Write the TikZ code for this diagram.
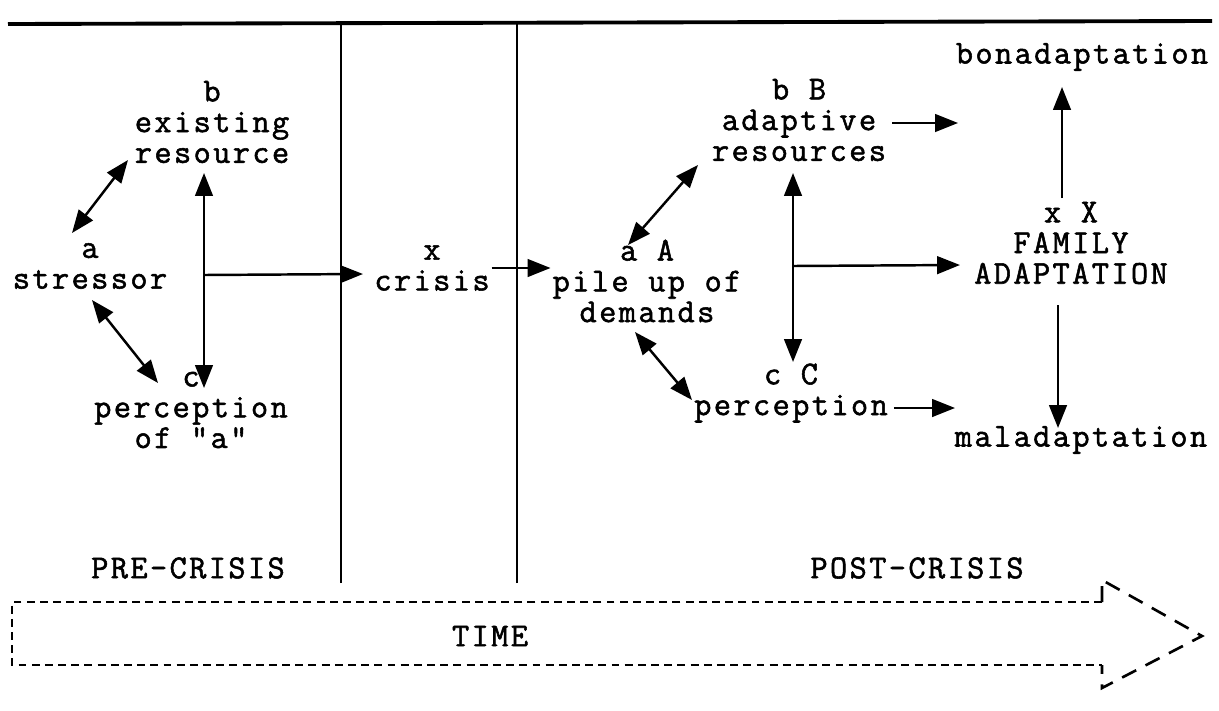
\documentclass[tikz,border=0pt]{standalone}
\usepackage{fontspec}
\newfontfamily\typefont[FakeBold=1.6,LetterSpace=7.2]{Latin Modern Mono}
\usetikzlibrary{arrows.meta}

\begin{document}
\begin{tikzpicture}[x=0.02cm, y=-0.02cm,
    lbl/.style={font=\typefont\fontsize{19pt}{17.5pt}\selectfont, align=center, inner sep=1pt},
    oneway/.style={line width=1.4pt, -{Triangle[length=13pt,width=10pt]}},
    twoway/.style={line width=1.4pt, {Triangle[length=13pt,width=10pt]}-{Triangle[length=13pt,width=10pt]}},
    divider/.style={line width=1.2pt},
    timeline/.style={line width=1.5pt, dash pattern=on 4.5pt off 3pt}]
  \useasboundingbox (0,0) rectangle (1219,710);

  % top rule and the two phase dividers
  \coordinate (topL) at (8,24);
  \coordinate (topR) at (1212,21);
  \coordinate (divA) at (341,583);
  \coordinate (divB) at (517,583);
  \draw[divider, line width=2.2pt] (topL) -- (topR);
  \draw[divider] (divA) -- (divA |- topL);
  \draw[divider] (divB) -- (divB |- topL);

  % pre-crisis
  \node[lbl] (exres) at (212,122) {b\\existing\\resource};
  \node[lbl] (stressor) at (90,266) {a\\stressor};
  \node[lbl] (percep) at (191,410) {c\\perception\\of "a"};
  \node[lbl] (crisis) at (432,268) {x\\crisis};

  % post-crisis
  \node[lbl] (pileup) at (647,281) {a A\\pile up of\\demands};
  \node[lbl] (adres) at (799,120) {b B\\adaptive\\resources};
  \node[lbl] (percepB) at (791,393) {c C\\perception};
  \node[lbl] (famad) at (1071,243) {x X\\FAMILY\\ADAPTATION};
  \node[lbl] (bonad) at (1082,57) {bonadaptation};
  \node[lbl] (malad) at (1081,440) {maladaptation};

  \node[lbl] (pre) at (188,568) {PRE-CRISIS};
  \node[lbl] (post) at (917,568) {POST-CRISIS};
  \node[lbl] (time) at (490,636) {TIME};

  % arrow ends
  \coordinate (aUp) at (72,233);
  \coordinate (bLow) at (128,160);
  \coordinate (aLow) at (92,300);
  \coordinate (cUp) at (158,383);
  \coordinate (bcTop) at (204,173);
  \coordinate (bcBot) at (204,388);
  \coordinate (jLeft) at (204,275);
  \coordinate (xIn) at (363,274);
  \coordinate (AUp) at (628,245);
  \coordinate (BLow) at (698,165);
  \coordinate (ALow) at (635,332);
  \coordinate (CUp) at (692,400);
  \coordinate (BCTop) at (793,173);
  \coordinate (BCBot) at (793,362);
  \coordinate (jRight) at (793,266);
  \coordinate (XIn) at (960,265);
  \coordinate (BOut) at (958,123);
  \coordinate (COut) at (955,408);
  \coordinate (Xtop) at (1062,198);
  \coordinate (bonIn) at (1062,87);
  \coordinate (Xbot) at (1058,305);
  \coordinate (malIn) at (1058,428);

  \draw[twoway] (aUp) -- (bLow);
  \draw[twoway] (aLow) -- (cUp);
  \draw[twoway] (bcTop) -- (bcBot);
  \draw[oneway] (jLeft) -- (xIn);
  \draw[oneway] (crisis.east) -- (crisis.east -| pileup.west);

  \draw[twoway] (AUp) -- (BLow);
  \draw[twoway] (ALow) -- (CUp);
  \draw[twoway] (BCTop) -- (BCBot);
  \draw[oneway] (jRight) -- (XIn);
  \draw[oneway] (adres.east |- BOut) ++(4,0) -- (BOut);
  \draw[oneway] (percepB.east |- COut) ++(4,0) -- (COut);
  \draw[oneway] (Xtop) -- (bonIn);
  \draw[oneway] (Xbot) -- (malIn);

  % time arrow
  \draw[timeline] (1102,602) -- (12,602) -- (12,665) -- (1102,665);
  \draw[timeline, dash pattern=on 9pt off 6pt] (1102,602) -- (1102,580) -- (1202,636) -- (1102,688) -- (1102,665);
\end{tikzpicture}
\end{document}
